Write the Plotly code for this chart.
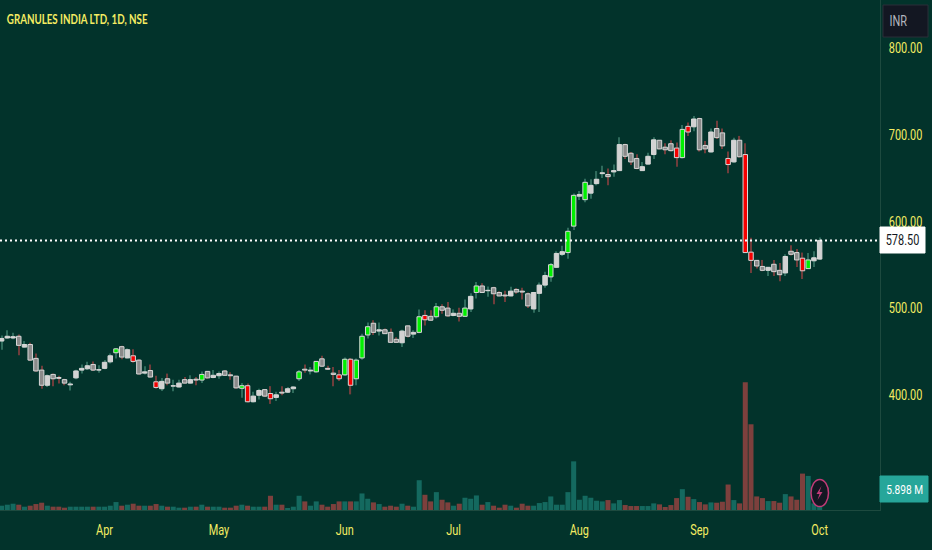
import plotly.graph_objects as go

# daily OHLC, index = trading day
opens = [462.5, 466, 466, 468, 455.5, 458.5, 442.5, 429, 411.5, 424, 420.5, 418, 412, 420, 429, 430.5, 435.5, 429, 431, 438.5,
         449, 456, 443, 445.5, 440.5, 425.5, 428.5, 415.5, 407.5, 419, 410.5, 409.5, 418, 414, 418.5, 417.5, 427.5, 420.5, 422.5, 428,
         423.5, 422, 408, 411, 392.5, 400, 406.5, 402, 397.5, 403.5, 403.5, 407.5, 419, 430, 428, 427, 442, 431, 425.5, 423.5,
         423.5, 441.5, 419, 443, 469.5, 483, 474, 475.5, 472.5, 464.5, 460.5, 480, 470.5, 472.5, 492, 491, 490.5, 502, 500.5, 492,
         494.5, 491, 499.5, 518.5, 526, 520.5, 524, 518.5, 515.5, 514.5, 522, 520, 517, 499.5, 517.5, 527, 536.5, 547.5, 562.5, 564.5,
         595, 629.5, 625.5, 633, 644, 655.5, 654.5, 657.5, 659, 689, 679, 673, 659, 666.5, 677.5, 694, 686, 690, 685, 674,
         710, 709.5, 719, 688, 680.5, 707.5, 702.5, 673, 669, 694, 677.5, 565, 555.5, 548.5, 544, 551, 544, 541, 566, 564.5,
         558, 546, 555, 557]
highs = [469, 475, 472, 470, 462.5, 460.5, 448, 434, 424, 425, 422.5, 419, 415.5, 429.5, 435.5, 438.5, 439, 434.5, 440.5, 448,
         454.5, 457, 454, 453, 441.5, 433.5, 435.5, 422.5, 420, 425, 418, 418, 421, 423, 421, 427.5, 428, 429, 427.5, 429,
         426.5, 422.5, 414, 413.5, 404, 407.5, 407, 410.5, 404, 410.5, 409.5, 410.5, 429, 435.5, 432.5, 439.5, 445.5, 434, 432.5, 429,
         443.5, 443, 442.5, 471, 484, 486.5, 484, 477, 477, 467, 475.5, 480.5, 475, 499, 498, 498, 506.5, 505, 507.5, 499,
         501, 510.5, 517.5, 530.5, 529, 525.5, 525, 520, 520.5, 525, 523.5, 524, 518.5, 519, 530, 542.5, 552.5, 566, 572.5, 593,
         632.5, 635.5, 649.5, 649, 658.5, 664.5, 661.5, 666, 697.5, 690, 680.5, 678, 669, 679.5, 697.5, 694, 690.5, 694, 691.5, 711.5,
         714.5, 722, 720, 693, 707.5, 716.5, 707.5, 681, 697, 699, 690.5, 581.5, 556, 556, 548, 556, 552.5, 562.5, 573, 568.5,
         564.5, 564, 566, 582]
lows = [452.5, 465, 464.5, 446, 455, 439.5, 427, 407.5, 409.5, 410.5, 413.5, 411.5, 405.5, 418.5, 425, 429, 428, 426, 430, 436.5,
        442.5, 441.5, 442.5, 437.5, 424, 424, 420.5, 407.5, 405, 411.5, 404.5, 409, 413.5, 413.5, 411.5, 414, 419, 419.5, 419, 422.5,
        418, 407.5, 397, 391.5, 391.5, 395, 398, 390, 393.5, 400, 402.5, 402.5, 416.5, 426, 424, 426, 432.5, 429, 410.5, 416.5,
        422.5, 401, 411.5, 441, 465.5, 469.5, 469, 470.5, 460.5, 460.5, 455.5, 466.5, 466, 471.5, 480.5, 486, 488.5, 494, 490.5, 491,
        485, 490.5, 496, 511.5, 518, 513.5, 505, 514, 507.5, 514, 517, 510.5, 500.5, 495, 496, 524, 531, 547, 560.5, 557.5,
        590.5, 625, 622.5, 626.5, 642, 650.5, 642, 652, 658.5, 672.5, 665.5, 660.5, 658.5, 666, 672.5, 683.5, 678, 681, 663.5, 673,
        699, 704.5, 681, 679, 680, 695.5, 684, 656, 668, 674, 564, 541, 546, 543, 537.5, 537.5, 531.5, 537.5, 561, 548,
        534, 545.5, 548, 556]
closes = [465.5, 468, 467.5, 457.5, 458.5, 440.5, 428, 411.5, 422.5, 419, 419.5, 414, 413, 428, 431, 434, 429, 429.5, 438, 445.5,
          453.5, 444, 452.5, 439, 424.5, 427, 421, 409, 416, 414, 411, 414, 414, 418, 417.5, 424, 420, 423, 425, 423,
          422.5, 408.5, 411, 392.5, 399, 405.5, 399, 396, 400.5, 402.5, 407.5, 409.5, 427, 429, 429, 439, 433.5, 430, 424, 419,
          441.5, 411.5, 440.5, 468, 479, 472.5, 475.5, 471, 461, 461, 474, 468, 472.5, 490.5, 487, 486.5, 502, 498, 491.5, 494.5,
          491, 500.5, 514, 526, 518.5, 521, 517, 514.5, 514.5, 520, 519, 519, 503, 518.5, 527, 538, 550.5, 563.5, 565.5, 589,
          630.5, 631.5, 645.5, 642, 649, 656.5, 652, 659, 689, 675.5, 669, 661.5, 663.5, 675.5, 694.5, 684, 683, 682, 674, 706.5,
          703.5, 718.5, 683, 684, 703.5, 697, 687.5, 666, 694, 675, 564.5, 555.5, 549, 544, 547.5, 542.5, 539, 560, 562.5, 556,
          543.5, 556, 558.5, 578.5]
# volume in millions
volume = [1.3, 1.6, 1.9, 1.6, 1.0, 1.3, 1.8, 2.2, 1.3, 1.0, 1.0, 0.7, 1.0, 1.0, 1.0, 1.0, 1.0, 1.0, 1.0, 1.3,
          2.4, 1.3, 1.6, 1.9, 1.3, 1.3, 1.3, 1.8, 1.3, 1.0, 1.0, 0.7, 0.7, 1.0, 1.0, 1.6, 1.0, 1.0, 1.0, 0.7,
          0.7, 1.3, 1.6, 1.3, 1.0, 1.0, 1.0, 4.3, 1.6, 1.6, 0.5, 1.0, 4.3, 2.6, 1.3, 2.6, 1.6, 1.0, 1.8, 2.6,
          2.6, 2.6, 2.6, 5.0, 3.4, 2.3, 1.8, 1.0, 1.3, 1.0, 1.9, 1.3, 1.0, 9.0, 4.6, 2.6, 5.4, 3.1, 2.3, 1.3,
          1.9, 3.7, 3.4, 4.4, 1.6, 2.4, 1.3, 0.7, 1.6, 1.3, 0.7, 1.9, 1.3, 1.3, 2.1, 2.4, 4.1, 1.6, 1.6, 5.4,
          14.7, 3.1, 4.3, 3.7, 2.8, 2.6, 3.0, 2.0, 3.0, 1.5, 1.2, 1.2, 1.2, 1.2, 2.0, 1.7, 0.9, 1.5, 3.6, 6.3,
          4.0, 3.3, 2.4, 1.7, 2.3, 2.2, 2.5, 7.7, 3.0, 2.0, 38.6, 25.9, 4.1, 3.6, 2.7, 2.7, 2.2, 4.8, 4.1, 3.1,
          11.0, 10.3, 2.0, 5.898]
# days the chart paints bright green / red
strong_days = [20, 23, 27, 35, 42, 43, 47, 52, 55, 59, 60, 61, 62, 63, 64, 73, 74, 76, 81, 83, 96, 99,
               100, 102, 118, 119, 120, 127, 130, 131, 140, 141]
month_days = [18, 38, 60, 79, 101, 122, 143]
month_names = ["Apr", "May", "Jun", "Jul", "Aug", "Sep", "Oct"]
price_ticks = [300, 400, 500, 600, 700, 800]

BG = "#02332b"
YELLOW = "#f4ec62"
FONT = "Roboto, sans-serif"
PLOT_W, PLOT_H = 880, 510

x = list(range(len(closes)))
rising = [c >= o for o, c in zip(opens, closes)]
body_colors = []
for i, up in enumerate(rising):
    if i in strong_days:
        body_colors.append("#00f000" if up else "#f50000")
    else:
        body_colors.append("#d2d2d2" if up else "#8a8a8a")
wick_colors = ["#2f6b5c" if up else "#6f3d3b" for up in rising]
vol_colors = ["#14695f" if up else "#7d403d" for up in rising]

fig = go.Figure()
fig.add_trace(go.Bar(x=x, y=[h - l for h, l in zip(highs, lows)], base=lows, width=0.2,
                     marker=dict(color=wick_colors, line_width=0)))
fig.add_trace(go.Bar(x=x, y=[abs(c - o) for o, c in zip(opens, closes)],
                     base=[min(o, c) for o, c in zip(opens, closes)], width=0.78,
                     marker=dict(color=body_colors, line=dict(color="#d8d8d8", width=1))))
fig.add_trace(go.Bar(x=x, y=volume, width=0.88, yaxis="y2", marker=dict(color=vol_colors, line_width=0)))


def px_x(v):
    return v / PLOT_W


def px_y(v):
    return 1 - v / PLOT_H


def box(x0, y0, x1, y1, fill, line=None):
    return dict(type="rect", xref="paper", yref="paper", x0=px_x(x0), x1=px_x(x1), y0=px_y(y0), y1=px_y(y1),
                fillcolor=fill, line=dict(color=line or fill, width=1), layer="above")


def label(text, x0, y0, color, size=14, font=FONT):
    return dict(text=text, xref="paper", yref="paper", x=px_x(x0), y=px_y(y0), showarrow=False,
                xanchor="center", yanchor="middle", font=dict(family=font, size=size, color=color))


bolt = [(821.5, 486), (816.5, 494), (819.5, 494), (817.5, 500), (822.5, 492), (819.5, 492)]
bolt_path = "M" + " L".join(f"{px_x(a):.5f},{px_y(b):.5f}" for a, b in bolt) + " Z"

fig.update_layout(
    width=932, height=550,
    margin=dict(l=0, r=52, t=0, b=40, autoexpand=False),
    paper_bgcolor=BG, plot_bgcolor=BG,
    barmode="overlay", showlegend=False,
    xaxis=dict(range=[-0.28, 153.55], tickvals=month_days, ticktext=month_names, showgrid=False, zeroline=False,
               showline=True, linecolor="#1d4a3f", ticks="outside", ticklen=7, tickcolor=BG,
               tickfont=dict(family=FONT, size=14, color=YELLOW)),
    yaxis=dict(range=[267.7, 855.7], side="right", tickvals=price_ticks, tickformat=".2f", showgrid=False,
               zeroline=False, showline=True, linecolor="#1d4a3f", ticks="outside", ticklen=5, tickcolor=BG,
               tickfont=dict(family=FONT, size=14, color=YELLOW)),
    yaxis2=dict(range=[0, 154.1], overlaying="y", visible=False),
    shapes=[
        dict(type="line", xref="paper", yref="y", x0=0, x1=1, y0=closes[-1], y1=closes[-1],
             line=dict(color="#ffffff", width=2, dash="2px,3px"), layer="above"),
        box(880, 227, 925, 253, "#ffffff"),
        box(880, 476, 928, 502, "#26a69a"),
        box(883, 5, 928, 37, "#131722", "#2a2e39"),
        dict(type="circle", xref="paper", yref="paper", x0=px_x(811), x1=px_x(828.5), y0=px_y(479.5), y1=px_y(506.5),
             fillcolor="#131722", line=dict(color="#c23b78", width=1.5), layer="above"),
        dict(type="path", xref="paper", yref="paper", path=bolt_path, fillcolor="#c23b78", line_width=0, layer="above"),
    ],
    annotations=[
        label("<b>GRANULES INDIA LTD, 1D, NSE</b>", 77, 20, YELLOW, 12.5, "Lato, sans-serif"),
        label("578.50", 902.5, 240, "#131722"),
        label("5.898 M", 904, 489, "#ffffff", 13),
        label("INR", 899, 21, "#b2b5be"),
    ],
)

# the reference text is condensed and no narrow font is installed, so squeeze the glyphs
squeeze = """
document.body.style.margin = '0';
document.documentElement.style.overflow = 'hidden';
document.querySelectorAll('.xtick text, .ytick text, .annotation-text').forEach(function (t) {
  t.setAttribute('lengthAdjust', 'spacingAndGlyphs');
  t.setAttribute('textLength', 0.78 * t.getComputedTextLength());
});
"""
fig.write_html("out.html", config={"displayModeBar": False}, post_script=squeeze)
